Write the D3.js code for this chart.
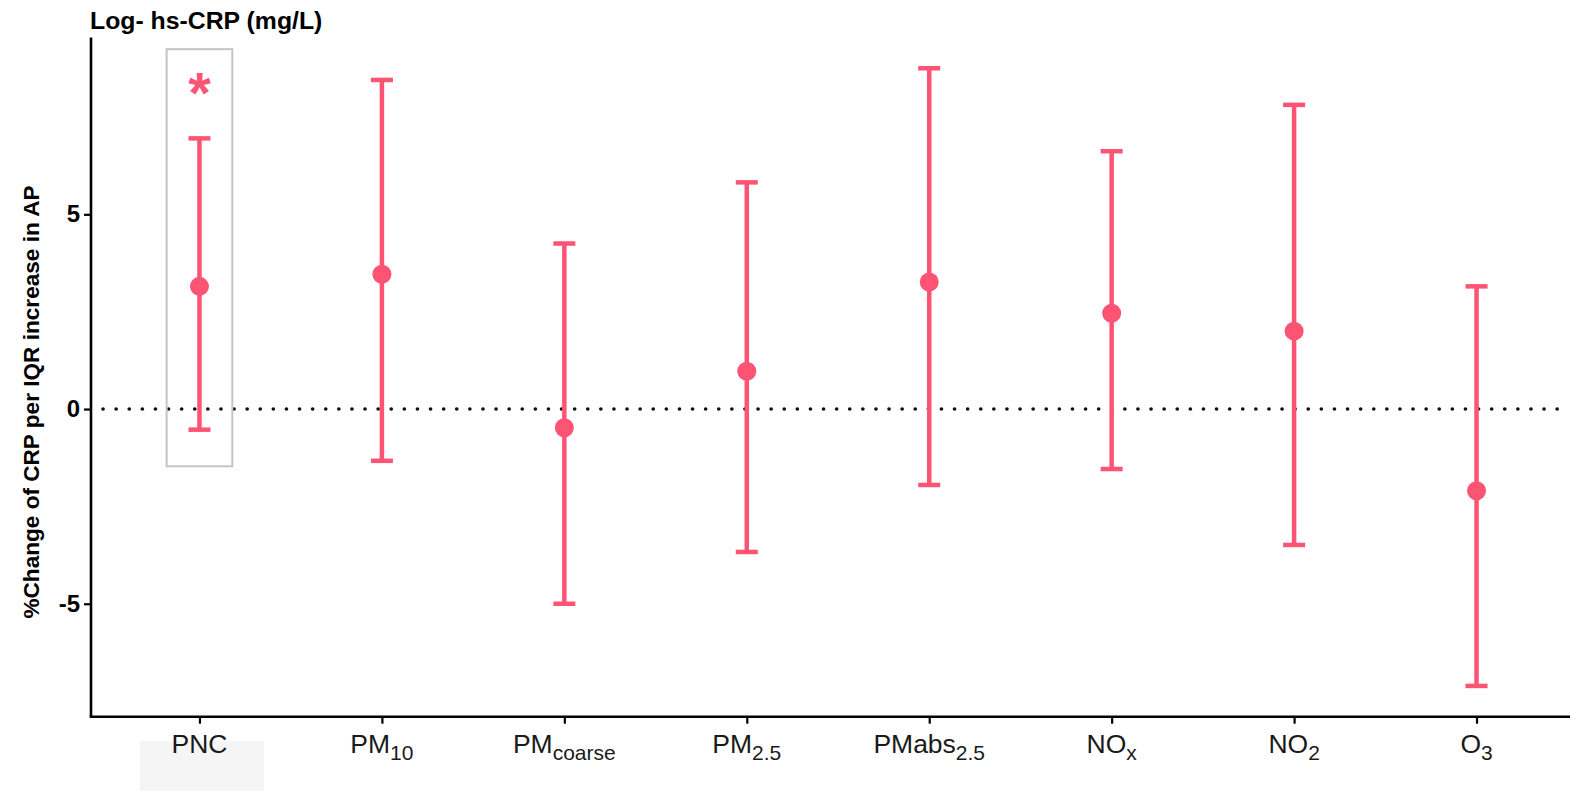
<!DOCTYPE html>
<html>
<head>
<meta charset="utf-8">
<script src="https://cdn.jsdelivr.net/npm/d3@7"></script>
<style>
  html, body { margin: 0; padding: 0; background: #ffffff; }
  svg { display: block; font-family: "Liberation Sans", Arial, Helvetica, sans-serif; }
</style>
</head>
<body>
<svg id="chart" width="1570" height="791"></svg>
<script>
// Pollutants on the x axis (label base text + subscript)
const pollutants = ["PNC", "PM10", "PMcoarse", "PM2.5", "PMabs2.5", "NOx", "NO2", "O3"];
const labelBase  = ["PNC", "PM", "PM", "PM", "PMabs", "NO", "NO", "O"];
const labelSub   = ["", "10", "coarse", "2.5", "2.5", "x", "2", "3"];

// % change of CRP per IQR increase, with 95% CI
const estimate = [3.15, 3.46, -0.48, 0.97, 3.26, 2.46, 2.00, -2.10];
const ciLower  = [-0.53, -1.33, -5.00, -3.67, -1.95, -1.54, -3.49, -7.11];
const ciUpper  = [6.95, 8.45, 4.25, 5.82, 8.75, 6.62, 7.81, 3.15];

// Significant result, highlighted
const significant = ["PNC"];

const yTicks = [-5, 0, 5];

const pink = "#fd5474";
const svg = d3.select("#chart");

const plotLeft = 91, plotTop = 37.5, plotBottom = 716.7;

const x = d3.scalePoint()
  .domain(pollutants)
  .range([90, 1586])
  .padding(0.6);

const y = d3.scaleLinear()
  .domain([-7.9, 9.54])
  .range([plotBottom, plotTop]);

const rows = pollutants.map((p, i) => ({
  key: p, est: estimate[i], lo: ciLower[i], hi: ciUpper[i],
  base: labelBase[i], sub: labelSub[i]
}));

// faint background patch under the first label
svg.append("rect")
  .attr("x", 140).attr("y", 741).attr("width", 124).attr("height", 50)
  .attr("fill", "#f5f5f5");

// reference line at zero
svg.append("line")
  .attr("x1", plotLeft + 12).attr("x2", 1570)
  .attr("y1", y(0)).attr("y2", y(0))
  .attr("stroke", "#111")
  .attr("stroke-width", 3.6)
  .attr("stroke-linecap", "round")
  .attr("stroke-dasharray", "0.1,13");

// box around significant pollutant
const halfBox = x.step() * 0.18;
significant.forEach(k => {
  svg.append("rect")
    .attr("x", x(k) - halfBox)
    .attr("y", y(9.24))
    .attr("width", halfBox * 2)
    .attr("height", y(-1.47) - y(9.24))
    .attr("fill", "none")
    .attr("stroke", "#c4c4c4")
    .attr("stroke-width", 2);
  svg.append("text")
    .attr("x", x(k))
    .attr("y", y(8.17) + 22)
    .attr("text-anchor", "middle")
    .attr("font-size", 58)
    .attr("font-weight", "bold")
    .attr("fill", pink)
    .text("*");
});

// error bars
const capHalf = 11;
const g = svg.append("g").attr("stroke", pink).attr("stroke-width", 4.5);
g.selectAll(".stem").data(rows).join("line")
  .attr("x1", d => x(d.key)).attr("x2", d => x(d.key))
  .attr("y1", d => y(d.lo)).attr("y2", d => y(d.hi));
g.selectAll(".capHi").data(rows).join("line")
  .attr("x1", d => x(d.key) - capHalf).attr("x2", d => x(d.key) + capHalf)
  .attr("y1", d => y(d.hi)).attr("y2", d => y(d.hi));
g.selectAll(".capLo").data(rows).join("line")
  .attr("x1", d => x(d.key) - capHalf).attr("x2", d => x(d.key) + capHalf)
  .attr("y1", d => y(d.lo)).attr("y2", d => y(d.lo));

// point estimates
svg.selectAll(".pt").data(rows).join("circle")
  .attr("cx", d => x(d.key)).attr("cy", d => y(d.est))
  .attr("r", 9.5)
  .attr("fill", pink);

// y axis
const yAxis = svg.append("g")
  .attr("transform", `translate(${plotLeft},0)`)
  .call(d3.axisLeft(y).tickValues(yTicks).tickSize(7).tickPadding(4)
    .tickFormat(d => String(d)));
yAxis.select(".domain").attr("d", `M0,${plotTop}V${plotBottom}`).attr("stroke", "#000").attr("stroke-width", 2.6);
yAxis.selectAll(".tick line").attr("stroke", "#000").attr("stroke-width", 2.2);
yAxis.selectAll(".tick text")
  .attr("font-size", 24).attr("font-weight", "bold").attr("fill", "#000")
  .attr("font-family", "Liberation Sans, Arial, sans-serif");

// x axis
const xAxis = svg.append("g")
  .attr("transform", `translate(0,${plotBottom})`)
  .call(d3.axisBottom(x).tickSize(7).tickFormat(""));
xAxis.select(".domain").attr("d", `M${plotLeft - 1.3},0H1570`).attr("stroke", "#000").attr("stroke-width", 2.6);
xAxis.selectAll(".tick line").attr("stroke", "#000").attr("stroke-width", 2.2);

// x labels with subscripts
const lbl = svg.selectAll(".xlab").data(rows).join("text")
  .attr("x", d => x(d.key))
  .attr("y", 753)
  .attr("text-anchor", "middle")
  .attr("font-size", 26.5)
  .attr("fill", "#1a1a1a");
lbl.append("tspan").text(d => d.base);
lbl.filter(d => d.sub !== "").append("tspan")
  .attr("font-size", 21)
  .attr("dy", 7)
  .text(d => d.sub);

// titles
svg.append("text")
  .attr("x", 90).attr("y", 29)
  .attr("font-size", 24.8).attr("font-weight", "bold").attr("fill", "#000")
  .text("Log- hs-CRP (mg/L)");

svg.append("text")
  .attr("transform", `translate(39,402) rotate(-90)`)
  .attr("text-anchor", "middle")
  .attr("font-size", 22.6).attr("font-weight", "bold").attr("fill", "#000")
  .text("%Change of CRP per IQR increase in AP");
</script>
</body>
</html>
